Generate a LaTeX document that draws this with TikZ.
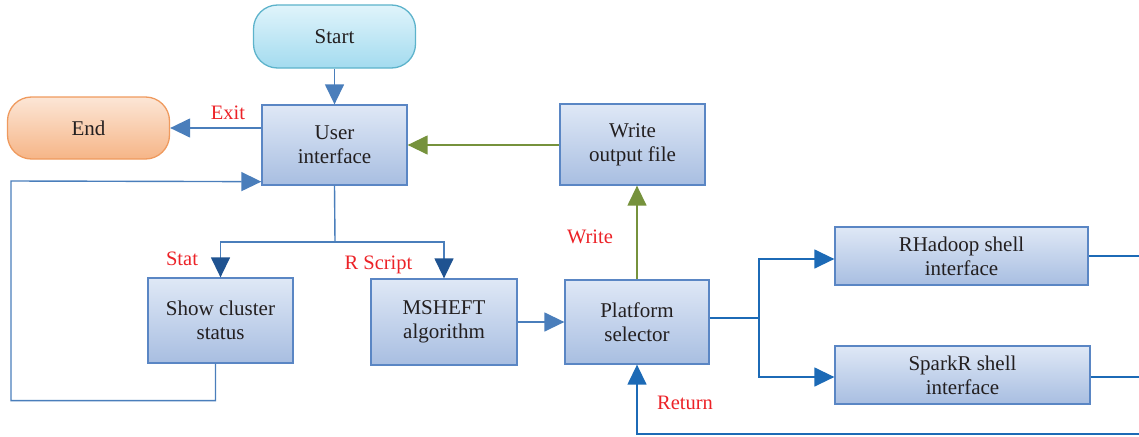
\documentclass[tikz,border=0pt]{standalone}
\usepackage{fontspec}
\setmainfont{Liberation Serif}
\usetikzlibrary{arrows.meta}
\definecolor{boxtop}{HTML}{DFE8F6}
\definecolor{boxbot}{HTML}{A8BEE1}
\definecolor{boxline}{HTML}{5A86C4}
\definecolor{starttop}{HTML}{E0F4FB}
\definecolor{startbot}{HTML}{A3DBEF}
\definecolor{startline}{HTML}{5DB3CB}
\definecolor{endtop}{HTML}{FCE6D6}
\definecolor{endbot}{HTML}{F6B587}
\definecolor{endline}{HTML}{EF9A5E}
\definecolor{flowblue}{HTML}{4A7EBB}
\definecolor{tipdark}{HTML}{1F5391}
\definecolor{brightblue}{HTML}{1C6AB6}
\definecolor{flowgreen}{HTML}{76923C}
\definecolor{lblred}{HTML}{EC2227}
\definecolor{inkgray}{HTML}{231F20}

\begin{document}
\begin{tikzpicture}[x=1pt,y=-1pt,
    every node/.style = {align=center, text=inkgray,
      font=\fontsize{21}{24}\selectfont},
    procbox/.style = {shape=rectangle, draw=boxline, line width=1.3pt,
      top color=boxtop, bottom color=boxbot},
    termbox/.style = {shape=rectangle, rounded corners=24pt, line width=1.3pt},
    lbl/.style = {text=lblred, font=\fontsize{20.5}{23}\selectfont},
    flow/.style = {draw=flowblue, line width=1.4pt,
      -{Triangle[length=20pt,width=19pt]}},
    darkflow/.style = {draw=flowblue, line width=1.4pt,
      -{Triangle[length=20pt,width=19pt,color=tipdark]}},
    brightline/.style = {draw=brightblue, line width=1.4pt},
    brightflow/.style = {brightline, -{Triangle[length=20pt,width=19pt]}},
    greenflow/.style = {draw=flowgreen, line width=1.4pt,
      -{Triangle[length=20pt,width=19pt]}}]
    \useasboundingbox (0,0) rectangle (1139,436);

    \node[termbox, draw=startline, top color=starttop, bottom color=startbot,
      minimum width=162pt, minimum height=63pt] (start) at (334.5,36.5) {Start};
    \node[termbox, draw=endline, top color=endtop, bottom color=endbot,
      minimum width=162pt, minimum height=62pt] (end) at (88.5,128) {End};
    \node[procbox, minimum width=145pt, minimum height=80pt] (ui) at (334.5,145) {User\\interface};
    \node[procbox, minimum width=145pt, minimum height=81pt] (wout) at (632.5,144.5) {Write\\output file};
    \node[procbox, minimum width=145pt, minimum height=85pt] (show) at (220.5,320.5) {Show cluster\\status};
    \node[procbox, minimum width=146pt, minimum height=86pt] (msheft) at (444,322) {MSHEFT\\algorithm};
    \node[procbox, minimum width=144pt, minimum height=84pt] (plat) at (637,322) {Platform\\selector};
    \node[procbox, minimum width=253pt, minimum height=58pt] (rhadoop) at (961.5,256) {RHadoop shell\\interface};
    \node[procbox, minimum width=255pt, minimum height=58pt] (spark) at (962.5,375) {SparkR shell\\interface};

    \coordinate (split) at (335,242);
    \coordinate (fork) at (759,318);
    \coordinate (rhend) at (1139,256);
    \coordinate (spend) at (1139,377);
    \coordinate (retend) at (1139,434);

    \draw[flow] (start) -- (ui);
    \draw[flow] (ui.west |- end) -- (end);
    \draw[greenflow] (wout.west |- ui.east) -- (ui.east);
    \draw[greenflow] (plat.north) -- (plat.north |- wout.south);
    \draw[flowblue, line width=1.4pt] (ui.south) -- (split);
    \draw[darkflow] (split) -| (show.north);
    \draw[darkflow] (split) -| (msheft.north);
    \draw[flow] ([xshift=-5pt]show.south) -- ++(0,37) -| (11,181) -- ([yshift=4pt]ui.south west);
    \draw[flow] (msheft) -- (plat);
    \draw[brightline] (plat.east |- fork) -- (fork);
    \draw[brightflow] (fork) |- ([yshift=-3pt]rhadoop.west);
    \draw[brightflow] (fork) |- ([yshift=-2pt]spark.west);
    \draw[brightline] (rhadoop.east) -- (rhend);
    \draw[brightline] (spark.east |- spend) -- (spend);
    \draw[brightflow] (retend) -| (plat.south);

    \node[lbl] (exitlbl) at (228,113) {Exit};
    \node[lbl] (statlbl) at (182,259) {Stat};
    \node[lbl] (rscriptlbl) at (378.5,265) {R Script};
    \node[lbl] (writelbl) at (590,237) {Write};
    \node[lbl] (returnlbl) at (685,403) {Return};
  \end{tikzpicture}
\end{document}
